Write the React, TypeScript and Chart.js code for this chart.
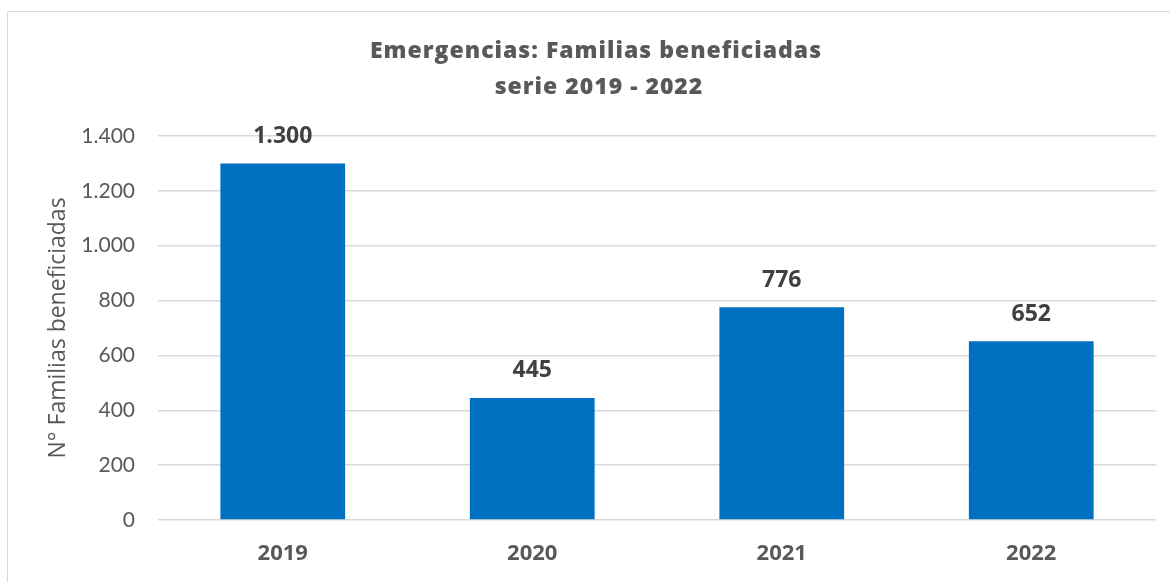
import React, { useEffect, useRef } from "react";
import { Chart, registerables } from "chart.js";

Chart.register(...registerables);

const categories = ["2019", "2020", "2021", "2022"];
const familias = [1300, 445, 776, 652];
const titleLines = ["Emergencias: Familias beneficiadas", "serie 2019 - 2022"];
const yAxisTitle = "N° Familias beneficiadas";

const fmt = (v: number) => String(Math.round(v)).replace(/\B(?=(\d{3})+(?!\d))/g, ".");

export default function App() {
  const ref = useRef<HTMLCanvasElement | null>(null);
  useEffect(() => {
    if (!ref.current) return;
    const decor = {
      id: "decor",
      beforeDraw(chart: any) {
        const { ctx } = chart;
        ctx.save();
        ctx.fillStyle = "#ffffff";
        ctx.fillRect(0, 0, chart.width, chart.height);
        ctx.strokeStyle = "#d9d9d9";
        ctx.lineWidth = 1;
        ctx.beginPath();
        ctx.moveTo(7.5, chart.height);
        ctx.lineTo(7.5, 11.5);
        ctx.lineTo(chart.width, 11.5);
        ctx.stroke();
        ctx.restore();
      },
      afterDatasetsDraw(chart: any) {
        const { ctx } = chart;
        ctx.save();
        ctx.fillStyle = "#595959";
        ctx.textAlign = "center";
        ctx.textBaseline = "middle";
        ctx.font = "800 23px 'Open Sans', sans-serif";
        (ctx as any).letterSpacing = "1px";
        ctx.fillText(titleLines[0], 596, 51);
        ctx.fillText(titleLines[1], 599, 87);
        (ctx as any).letterSpacing = "0px";
        ctx.fillStyle = "#404040";
        ctx.font = "bold 23px 'Open Sans', sans-serif";
        const meta = chart.getDatasetMeta(0);
        meta.data.forEach((bar: any, i: number) => {
          ctx.fillText(fmt(familias[i]), bar.x, bar.y - 27);
        });
        ctx.restore();
      },
    };
    const chart = new Chart(ref.current, {
      type: "bar",
      data: {
        labels: categories,
        datasets: [
          {
            data: familias,
            backgroundColor: "#0070C0",
            borderWidth: 0,
            barPercentage: 0.5,
            categoryPercentage: 1,
          },
        ],
      },
      options: {
        animation: false,
        responsive: false,
        layout: { padding: { left: 0, right: 14, top: 136, bottom: 0 } },
        plugins: {
          legend: { display: false },
          title: { display: false },
          tooltip: { enabled: false },
        },
        scales: {
          x: {
            grid: { display: false, drawTicks: false },
            border: { display: false },
            ticks: {
              color: "#595959",
              font: { family: "'Open Sans', sans-serif", size: 22, weight: "bold" },
              padding: 21,
            },
            afterFit(scale: any) {
              scale.height = 62;
            },
          },
          y: {
            min: 0,
            max: 1400,
            grid: { color: "#d9d9d9", lineWidth: 1.5, drawTicks: false },
            border: { display: false },
            ticks: {
              stepSize: 200,
              color: "#595959",
              font: { family: "Lato, sans-serif", size: 21 },
              padding: 23,
              callback: (v: any) => fmt(Number(v)),
            },
            title: {
              display: true,
              text: yAxisTitle,
              color: "#595959",
              font: { family: "'Open Sans', sans-serif", size: 23 },
              padding: { top: 45, bottom: 0 },
            },
            afterFit(scale: any) {
              scale.width = 158;
            },
          },
        },
      } as any,
      plugins: [decor],
    });
    return () => chart.destroy();
  }, []);
  return (
    <canvas
      ref={ref}
      width={1170}
      height={582}
      style={{ position: "fixed", left: 0, top: 0, width: 1170, height: 582 }}
    />
  );
}
